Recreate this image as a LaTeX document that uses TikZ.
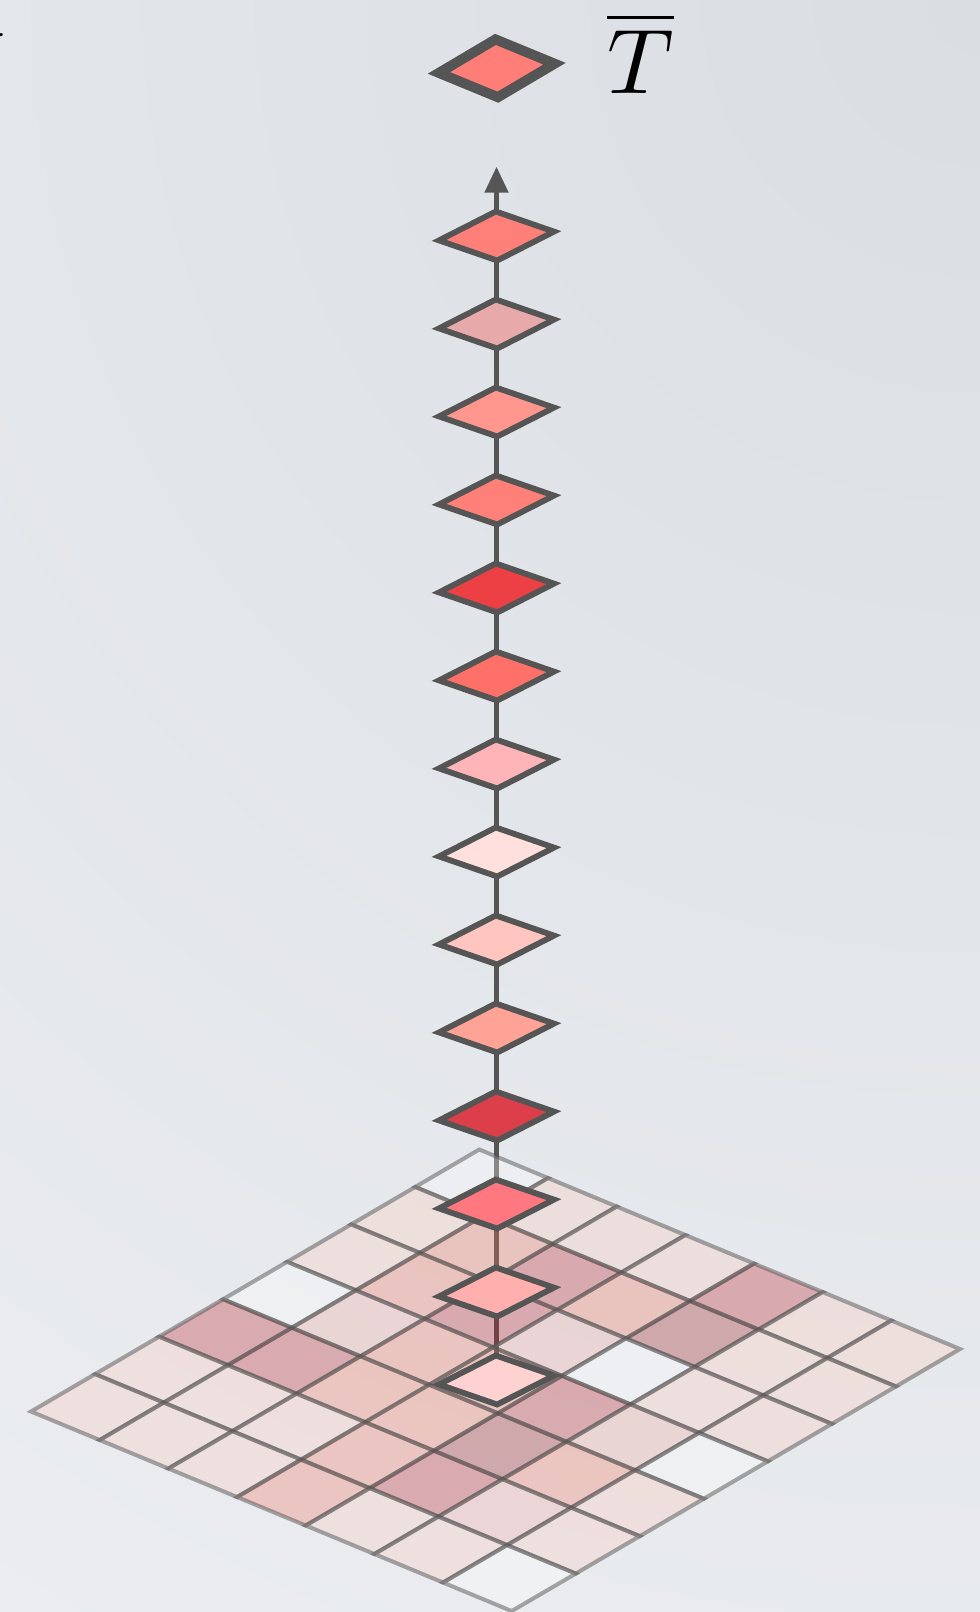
\documentclass[tikz,border=0pt]{standalone}
\usepackage{graphicx}
\usetikzlibrary{arrows.meta}
\definecolor{bgin}{RGB}{218,222,227}
\definecolor{bgout}{RGB}{252,252,253}
\pgfdeclareradialshading{bgshade}{\pgfpoint{0bp}{0bp}}{color(0bp)=(bgin); color(50bp)=(bgout)}
\definecolor{edge}{HTML}{555555}
\definecolor{c1}{HTML}{FF7F78}
\definecolor{c2}{HTML}{FF8078}
\definecolor{c3}{HTML}{E8A9AB}
\definecolor{c4}{HTML}{FF978F}
\definecolor{c5}{HTML}{FF8079}
\definecolor{c6}{HTML}{EC4045}
\definecolor{c7}{HTML}{FF7068}
\definecolor{c8}{HTML}{FFB5B8}
\definecolor{c9}{HTML}{FFE0DC}
\definecolor{c10}{HTML}{FFC6BF}
\definecolor{c11}{HTML}{FFA397}
\definecolor{c12}{HTML}{DC3F4A}
\definecolor{c13}{HTML}{FF7880}
\definecolor{c14}{HTML}{FFB0AE}
\definecolor{c15}{HTML}{FFD2D2}
\definecolor{cellW}{RGB}{255,255,255}
\definecolor{cellL}{RGB}{252,200,186}
\definecolor{cellP}{RGB}{242,165,160}
\definecolor{cellM}{RGB}{242,112,90}
\definecolor{cellD}{RGB}{184,26,36}
\definecolor{cellG}{RGB}{152,18,24}
\tikzset{
  dnode/.style={inner sep=0pt, minimum width=2pt, minimum height=49pt, draw=none, rectangle},
  conn/.style={draw=edge, line width=5pt},
  dshape/.style={draw=edge, line width=5.8pt, line join=miter},
  topshape/.style={draw=edge, line width=10pt, line join=miter},
  cellline/.style={draw=edge, draw opacity=0.5, line width=4pt, fill opacity=0.3},
}
\newcommand\coldiamond[2]{%
  \filldraw[dshape, fill=#2, shift={(#1.center)}] (-57.5,4.4) -- (-0.7,-24.5) -- (57.5,-4.4) -- (0.7,24.5) -- cycle;}
\begin{document}
\begin{tikzpicture}[x=1pt,y=-1pt]
\useasboundingbox (0,0) rectangle (980,1612);
\begin{scope}
  \clip (0,0) rectangle (980,1612);
  \shade[shading=bgshade] (980,0) circle (1900);
\end{scope}

% cut-off label at the top-left edge
\node[anchor=base east, inner sep=0pt] (vlbl) at (7,96) {\scalebox{9.2}{$V$}};

% nodes of the column
\node[dnode, minimum height=58pt] (dT) at (496.7,68.3) {};
\foreach \k in {2,...,15} {
  \node[dnode] (d\k) at (496.5,{236+88*(\k-2)}) {};
}
\coordinate (tip) at (496.5,166.7);

% connectors
\draw[conn, -{Triangle[length=26pt,width=23pt]}] (d2.north) -- (tip);
\foreach \k in {2,...,14} {
  \pgfmathtruncatemacro\nx{\k+1}
  \draw[conn] (d\k.south) -- (d\nx.north);
}

% grid
\begin{scope}[shift={(479.3,1149.5)}, x={(68.67pt,-28.5pt)}, y={(-64.04pt,-37.43pt)}]
  \foreach \row [count=\i from 0] in {
      {W,L,L,L,D,L,L},
      {L,M,D,M,G,L,L},
      {L,M,D,P,W,L,L},
      {W,P,M,M,D,P,W},
      {D,D,M,M,G,M,L},
      {L,L,L,M,D,P,L},
      {L,L,L,M,L,L,W}} {
    \foreach \c [count=\j from 0] in \row {
      \filldraw[cellline, fill=cell\c] (\j,\i) -- ++(1,0) -- ++(0,1) -- ++(-1,0) -- cycle;
    }
  }
\end{scope}

% diamonds
\filldraw[topshape, fill=c1, shift={(dT.center)}] (-57.8,4.6) -- (-1.2,-28.9) -- (57.8,-4.6) -- (1.2,28.9) -- cycle;
\foreach \k in {2,...,15} {
  \coldiamond{d\k}{c\k}
}

% label
\node[anchor=base, inner sep=0pt] (Tlbl) at (640.5,93.3) {\scalebox{9.2}{$\overline{T}$}};
\end{tikzpicture}
\end{document}
